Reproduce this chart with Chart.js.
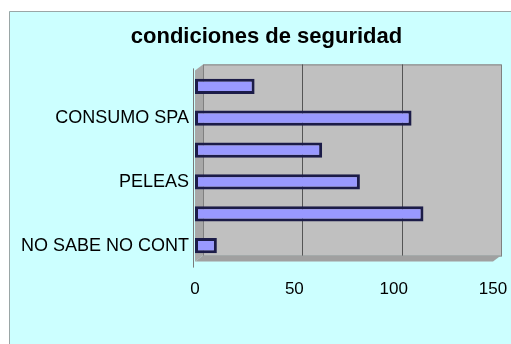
<!DOCTYPE html>
<html>
<head>
<meta charset="utf-8">
<script src="https://cdn.jsdelivr.net/npm/chart.js@4/dist/chart.umd.min.js"></script>
<style>
  html, body { margin: 0; padding: 0; background: #ffffff; }
  #wrap { position: relative; width: 511px; height: 344px; }
</style>
</head>
<body>
<div id="wrap"><canvas id="chart" width="511" height="344"></canvas></div>
<script>
// categories from top to bottom; the unlabelled ones are not readable in the original
const categories = ['', 'CONSUMO SPA', '', 'PELEAS', '', 'NO SABE NO CONT'];
const values = [30, 109, 64, 83, 115, 11];
const xTicks = [0, 50, 100, 150];

const DEPTH_X = 8, DEPTH_Y = 6;
const FONT = '"Liberation Sans", Arial, sans-serif';

// cyan frame + 3D-ish gray walls behind the bars
const backdrop = {
    id: 'backdrop',
    afterLayout(chart) {
        // title sits a bit right of the canvas centre in the original
        if (chart.titleBlock) {
            chart.titleBlock.left += 10;
            chart.titleBlock.right += 10;
        }
    },
    beforeDraw(chart) {
        const ctx = chart.ctx;
        const { left, right, top, bottom } = chart.chartArea;
        ctx.save();
        ctx.fillStyle = '#ffffff';
        ctx.fillRect(0, 0, chart.width, chart.height);
        ctx.fillStyle = '#ccffff';
        ctx.fillRect(9, 11, chart.width - 9, chart.height - 11);
        ctx.strokeStyle = '#9aa6a6';
        ctx.lineWidth = 1;
        ctx.beginPath();
        ctx.moveTo(9.5, chart.height);
        ctx.lineTo(9.5, 11.5);
        ctx.lineTo(chart.width, 11.5);
        ctx.stroke();

        // back wall
        ctx.fillStyle = '#c0c0c0';
        ctx.fillRect(left + DEPTH_X, top - DEPTH_Y, right - left, bottom - top);
        ctx.strokeStyle = '#808080';
        ctx.strokeRect(left + DEPTH_X + 0.5, top - DEPTH_Y + 0.5, right - left, bottom - top);

        // side wall
        ctx.fillStyle = '#a8a8a8';
        ctx.beginPath();
        ctx.moveTo(left, top);
        ctx.lineTo(left + DEPTH_X, top - DEPTH_Y);
        ctx.lineTo(left + DEPTH_X, bottom - DEPTH_Y);
        ctx.lineTo(left, bottom);
        ctx.closePath();
        ctx.fill();

        // floor
        ctx.fillStyle = '#a0a0a0';
        ctx.beginPath();
        ctx.moveTo(left, bottom);
        ctx.lineTo(left + DEPTH_X, bottom - DEPTH_Y);
        ctx.lineTo(right + DEPTH_X, bottom - DEPTH_Y);
        ctx.lineTo(right, bottom);
        ctx.closePath();
        ctx.fill();

        // gridlines on the back wall
        const xs = chart.scales.x;
        ctx.strokeStyle = '#555555';
        xTicks.slice(1, -1).forEach(v => {
            const px = Math.round(xs.getPixelForValue(v)) + DEPTH_X + 0.5;
            ctx.beginPath();
            ctx.moveTo(px, top - DEPTH_Y);
            ctx.lineTo(px, bottom - DEPTH_Y);
            ctx.stroke();
        });

        // front axis line
        ctx.strokeStyle = '#7a7a7a';
        ctx.beginPath();
        ctx.moveTo(left - 1.5, top - 2);
        ctx.lineTo(left - 1.5, bottom + 6);
        ctx.stroke();
        ctx.restore();
    }
};

new Chart(document.getElementById('chart').getContext('2d'), {
    type: 'bar',
    data: {
        labels: categories,
        datasets: [{
            data: values,
            backgroundColor: '#9999ff',
            borderColor: '#1c1c48',
            borderWidth: 3,
            borderSkipped: false,
            categoryPercentage: 0.8,
            barPercentage: 0.6
        }]
    },
    options: {
        indexAxis: 'y',
        responsive: false,
        animation: false,
        layout: { padding: { left: 20, right: 18, top: 0, bottom: 26 } },
        plugins: {
            legend: { display: false },
            tooltip: { enabled: false },
            title: {
                display: true,
                text: 'condiciones de seguridad',
                color: '#000000',
                font: { family: FONT, size: 22, weight: 'bold' },
                padding: { top: 24, bottom: 20 }
            }
        },
        scales: {
            x: {
                min: 0,
                max: 150,
                afterBuildTicks: scale => { scale.ticks = xTicks.map(v => ({ value: v })); },
                afterFit: scale => { scale.paddingLeft = 0; scale.paddingRight = 0; },
                grid: { display: false, drawTicks: false },
                border: { display: false },
                ticks: {
                    color: '#000000',
                    padding: 18,
                    maxRotation: 0,
                    font: { family: FONT, size: 17 }
                }
            },
            y: {
                afterFit: scale => { scale.width = 175; },
                grid: { display: false, drawTicks: false },
                border: { display: false },
                ticks: {
                    color: '#000000',
                    padding: 6,
                    autoSkip: false,
                    font: { family: FONT, size: 18 }
                }
            }
        }
    },
    plugins: [backdrop]
});
</script>
</body>
</html>
